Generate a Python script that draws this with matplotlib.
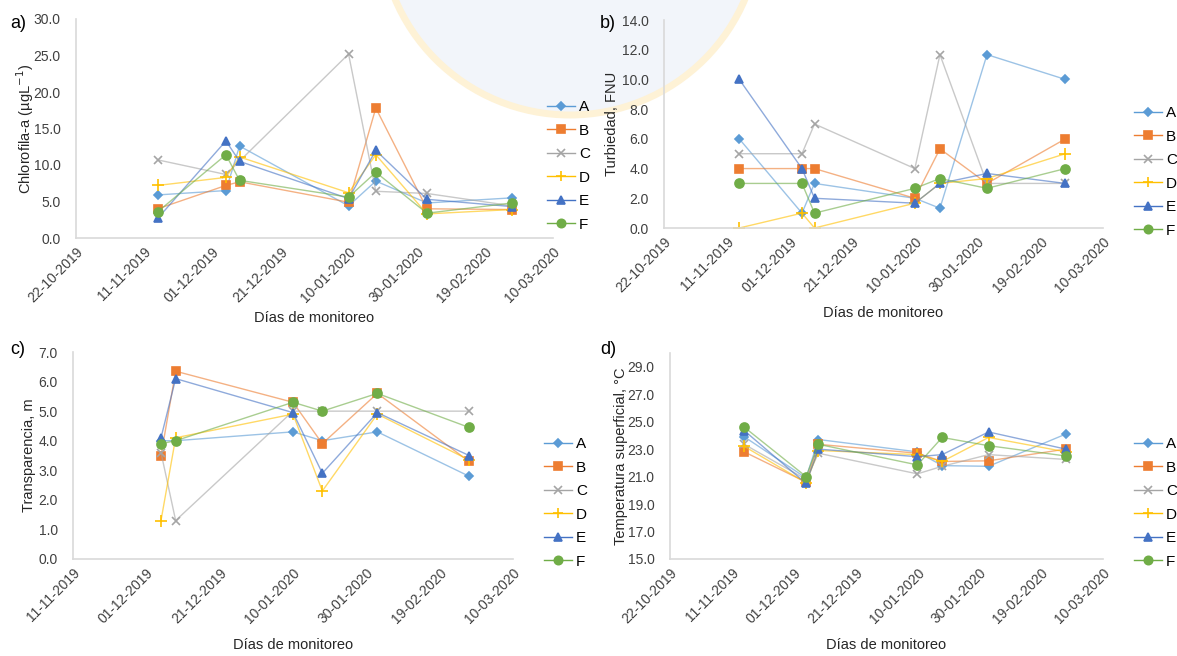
import numpy as np
import matplotlib
matplotlib.use('agg')
import matplotlib.pyplot as plt
import matplotlib.dates as mdates
from matplotlib.ticker import FormatStrFormatter
from matplotlib.patches import Ellipse
import pandas as pd

plt.rcParams['font.family'] = ['Liberation Sans', 'DejaVu Sans']

# fechas de muestreo
fechas = pd.to_datetime(['2019-11-15', '2019-12-05', '2019-12-09', '2020-01-10',
                         '2020-01-18', '2020-02-02', '2020-02-27'])
estaciones = ['A', 'B', 'C', 'D', 'E', 'F']
nan = np.nan

# a) clorofila-a (ugL-1), una fila por estacion
clorofila = [
    [5.9, 6.5, 12.6, 4.4, 7.8, 4.8, 5.5],
    [4.0, 7.2, 7.7, 4.9, 17.8, 4.0, 3.9],
    [10.7, 8.7, nan, 25.2, 6.4, 6.1, 4.4],
    [7.2, 8.3, 11.1, 6.2, 11.4, 3.3, 3.9],
    [2.7, 13.3, 10.5, 5.4, 12.0, 5.3, 4.3],
    [3.6, 11.4, 7.9, 5.6, 9.0, 3.4, 4.8],
]
# b) turbiedad (FNU)
turbiedad = [
    [6.0, 1.0, 3.0, 2.0, 1.33, 11.67, 10.0],
    [4.0, 4.0, 4.0, 2.0, 5.33, 3.0, 6.0],
    [5.0, 5.0, 7.0, 4.0, 11.67, 3.0, 3.0],
    [0.0, 1.0, 0.0, 1.67, 3.0, 3.33, 5.0],
    [10.0, 4.0, 2.0, 1.67, 3.0, 3.67, 3.0],
    [3.0, 3.0, 1.0, 2.67, 3.33, 2.67, 4.0],
]
# c) transparencia (m), sin dato el 15-11
transparencia = [
    [nan, 4.0, 4.0, 4.3, 4.0, 4.3, 2.8],
    [nan, 3.5, 6.35, 5.3, 3.9, 5.6, 3.3],
    [nan, 3.6, 1.3, 5.0, 5.0, 5.0, 5.0],
    [nan, 1.3, 4.1, 4.9, 2.3, 4.9, 3.35],
    [nan, 4.1, 6.1, 4.95, 2.9, 4.95, 3.5],
    [nan, 3.9, 4.0, 5.3, 5.0, 5.6, 4.45],
]
# d) temperatura superficial (C)
temperatura = [
    [23.9, 20.9, 23.7, 22.8, 21.8, 21.75, 24.1],
    [22.8, 20.6, 23.35, 22.7, 22.1, 22.15, 23.0],
    [23.35, 20.8, 22.7, 21.2, 21.75, 22.6, 22.25],
    [23.2, 20.55, 22.9, 22.6, 22.1, 23.85, 22.8],
    [24.35, 20.5, 23.0, 22.45, 22.6, 24.25, 23.0],
    [24.6, 21.0, 23.35, 21.85, 23.85, 23.25, 22.5],
]

colores = ['#5B9BD5', '#ED7D31', '#A5A5A5', '#FFC000', '#4472C4', '#70AD47']
marcadores = ['D', 's', 'x', '+', '^', 'o']
tamanos = [4.5, 6, 6, 8, 6, 6.5]

W, H = 1177, 656
fig = plt.figure(figsize=(W / 100, H / 100), dpi=100)

# marca de agua tenue del fondo (logo)
fig.patches.append(Ellipse((570 / W, 1 + 75 / H), 380 / W, 380 / H,
                           transform=fig.transFigure, facecolor='#F2F5FA',
                           edgecolor='#FEF2D6', lw=5, zorder=-1))


def px(left, right, top, bottom):
    return [left / W, 1 - bottom / H, (right - left) / W, (bottom - top) / H]


paneles = [
    dict(datos=clorofila, pos=px(76, 553, 19, 238), ylim=(0, 30), paso=5,
         ini='2019-10-22', ylabel='Chlorofila-a (µgL$^{-1}$)', ylx=-0.084, xly=-0.333,
         letra='a)', lxy=(10, 23), leg=(547, 166)),
    dict(datos=turbiedad, pos=px(664, 1103, 20, 228), ylim=(0, 14), paso=2,
         ini='2019-10-22', ylabel='Turbiedad, FNU', ylx=-0.103, xly=-0.375,
         letra='b)', lxy=(600, 23), leg=(1134, 172)),
    dict(datos=transparencia, pos=px(73, 513, 352, 559), ylim=(0, 7), paso=1,
         ini='2019-11-11', ylabel='Transparencia, m', ylx=-0.083, xly=-0.382,
         letra='c)', lxy=(10, 350), leg=(544, 503)),
    dict(datos=temperatura, pos=px(670, 1103, 353, 559), ylim=(15, 30), paso=2,
         ini='2019-10-22', ylabel='Temperatura superficial, °C', ylx=-0.097, xly=-0.383,
         letra='d)', lxy=(600, 350), leg=(1134, 503)),
]

for p in paneles:
    ax = fig.add_axes(p['pos'])
    ax.patch.set_alpha(0)
    for i, est in enumerate(estaciones):
        y = np.array(p['datos'][i], dtype=float)
        ok = ~np.isnan(y)
        ax.plot(fechas[ok], y[ok], color=colores[i], lw=1.0, alpha=0.6)
        ax.plot(fechas[ok], y[ok], ls='none', marker=marcadores[i], ms=tamanos[i],
                color=colores[i], mec=colores[i], mew=1.2)
        # entrada de leyenda con linea y marcador
        ax.plot([], [], color=colores[i], lw=1.0, marker=marcadores[i], ms=tamanos[i] - 0.5,
                mew=1.2, label=est)

    ticks = pd.date_range(p['ini'], '2020-03-10', freq='20D')
    ax.set_xlim(ticks[0], ticks[-1])
    ax.set_xticks(ticks)
    ax.xaxis.set_major_formatter(mdates.DateFormatter('%d-%m-%Y'))
    plt.setp(ax.get_xticklabels(), rotation=45, ha='right', rotation_mode='anchor')

    y0, y1 = p['ylim']
    ax.set_ylim(y0, y1)
    ax.set_yticks(np.arange(y0, y1 + 0.01, p['paso']))
    ax.yaxis.set_major_formatter(FormatStrFormatter('%.1f'))

    ax.tick_params(length=0, labelsize=10, colors='#404040')
    ax.tick_params(axis='y', pad=11)
    ax.tick_params(axis='x', pad=5)
    for s in ['top', 'right']:
        ax.spines[s].set_visible(False)
    for s in ['left', 'bottom']:
        ax.spines[s].set_color('#D9D9D9')
        ax.spines[s].set_linewidth(1.2)

    ax.set_ylabel(p['ylabel'], fontsize=10.5, color='#262626')
    ax.yaxis.set_label_coords(p['ylx'], 0.5)
    ax.set_xlabel('Días de monitoreo', fontsize=10.5, color='#262626')
    ax.xaxis.set_label_coords(0.5, p['xly'])

    fig.text(p['lxy'][0] / W, 1 - p['lxy'][1] / H, p['letra'], fontsize=13,
             va='center', ha='left', color='black')

    ax.legend(loc='center left', bbox_to_anchor=(p['leg'][0] / W, 1 - p['leg'][1] / H),
              bbox_transform=fig.transFigure, frameon=False, fontsize=11,
              handlelength=1.8, handletextpad=0.3, labelspacing=0.62, borderpad=0,
              borderaxespad=0)

fig.savefig('out.png', dpi=100)
